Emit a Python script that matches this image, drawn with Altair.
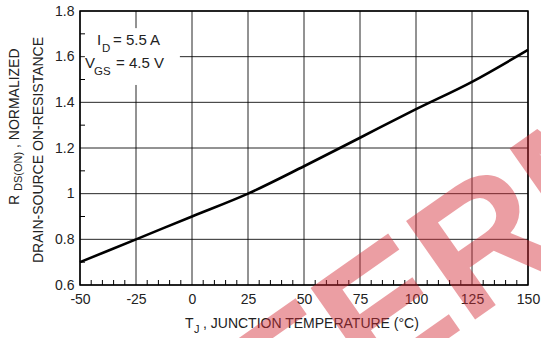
import altair as alt
import pandas as pd

# Normalized on-resistance vs. junction temperature
temp_c = [-50, -25, 0, 25, 50, 75, 100, 125, 150]
rds_norm = [0.70, 0.80, 0.90, 1.00, 1.12, 1.245, 1.37, 1.49, 1.63]

x_ticks = [-50, -25, 0, 25, 50, 75, 100, 125, 150]
y_ticks = [0.6, 0.8, 1.0, 1.2, 1.4, 1.6, 1.8]
x_minor = [v for v in range(-50, 151, 5) if v % 25 != 0]
y_minor = [0.7, 0.9, 1.1, 1.3, 1.5, 1.7]

# area left clear for the condition note (T range, R range)
note_t = [-47.8, -5.4]
note_r = [1.476, 1.725]

FONT = "Liberation Sans"
W, H = 448, 274

curve = pd.DataFrame({"t": temp_c, "r": rds_norm})
xs = alt.Scale(domain=[-50, 150], nice=False, zero=False)
ys = alt.Scale(domain=[0.6, 1.8], nice=False, zero=False)

x_axis = alt.Axis(values=x_ticks, grid=False, ticks=False, domain=False,
                  labelFont=FONT, labelFontSize=14, labelColor="#222",
                  labelPadding=7, labelFlush=False, labelOverlap=False,
                  labelExpr="'' + datum.value", title=None)
y_axis = alt.Axis(values=y_ticks, grid=False, ticks=False, domain=False,
                  labelFont=FONT, labelFontSize=14, labelColor="#222",
                  labelPadding=6, labelFlush=False, labelOverlap=False,
                  format="~g", title=None)

# grid segments, interrupted where the note sits
segs = []
for t in x_ticks:
    if note_t[0] < t < note_t[1]:
        segs.append((t, t, 0.6, note_r[0]))
        segs.append((t, t, note_r[1], 1.8))
    else:
        segs.append((t, t, 0.6, 1.8))
for r in y_ticks:
    if note_r[0] < r < note_r[1]:
        segs.append((-50, note_t[0], r, r))
        segs.append((note_t[1], 150, r, r))
    else:
        segs.append((-50, 150, r, r))
grid_df = pd.DataFrame(segs, columns=["ga", "gb", "gc", "gd"])

line = alt.Chart(curve).mark_line(color="black", strokeWidth=2.6, interpolate="monotone").encode(
    x=alt.X("t:Q", scale=xs, axis=x_axis),
    y=alt.Y("r:Q", scale=ys, axis=y_axis),
)

grid = alt.Chart(grid_df).mark_rule(color="black", strokeWidth=1, opacity=0.85).encode(
    x=alt.X("ga:Q", scale=xs, axis=x_axis), x2="gb:Q",
    y=alt.Y("gc:Q", scale=ys, axis=y_axis), y2="gd:Q")

xminor = alt.Chart(pd.DataFrame({"mx": x_minor})).mark_rule(color="black", strokeWidth=1).encode(
    x=alt.X("mx:Q", scale=xs, axis=x_axis), y=alt.value(H), y2=alt.value(H - 5))
yminor = alt.Chart(pd.DataFrame({"my": y_minor})).mark_rule(color="black", strokeWidth=1).encode(
    y=alt.Y("my:Q", scale=ys, axis=y_axis), x=alt.value(0), x2=alt.value(5))

one = pd.DataFrame({"k": [0]})


def txt(s, x, y, size=14, angle=0, align="left", baseline="alphabetic", color="#222",
        weight="normal", opacity=1.0):
    return alt.Chart(one).mark_text(
        text=s, font=FONT, fontSize=size, angle=angle, align=align,
        baseline=baseline, color=color, fontWeight=weight, opacity=opacity
    ).encode(x=alt.value(x), y=alt.value(y))


labels = [
    # condition note
    txt("I", 17, 34, 15),
    txt("D", 22, 41, 11.5),
    txt("= 5.5 A", 33, 34, 15),
    txt("V", 5, 57, 15),
    txt("GS", 14, 64, 11.5),
    txt("= 4.5 V", 36, 57, 15),
    # x title
    txt("T", 105, 317, 14),
    txt("J", 114, 322, 11),
    txt(", JUNCTION TEMPERATURE (\u00b0C)", 123, 317, 14),
    # y title
    txt("R", -65, 194, 14, angle=270, baseline="middle"),
    txt("DS(ON)", -61, 180, 11, angle=270, baseline="middle"),
    txt(", NORMALIZED", -65, 137, 14, angle=270, baseline="middle"),
    txt("DRAIN-SOURCE ON-RESISTANCE", -41, 139, 14, angle=270, align="center",
        baseline="middle"),
]

watermark = txt("FERM", 375, 258, 175, angle=325, align="center", baseline="middle",
                color="#d42a35", weight="bold", opacity=0.45)

chart = alt.layer(line, grid, xminor, yminor, *labels, watermark).properties(
    width=W, height=H,
    autosize=alt.AutoSizeParams(type="none"),
    padding={"left": 80, "top": 11, "right": 13, "bottom": 53},
    background="white",
).configure_view(stroke="black", strokeWidth=1.5)

chart.save("out.html", embed_options={"renderer": "svg", "actions": False})
